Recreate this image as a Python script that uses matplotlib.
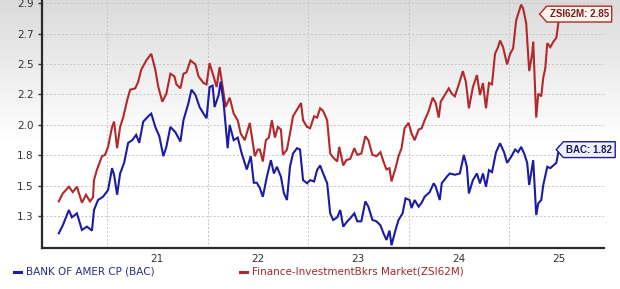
import numpy as np
import matplotlib
matplotlib.use("Agg")
import matplotlib.pyplot as plt
from matplotlib.path import Path
from matplotlib.lines import Line2D

# decimal years / values
bac_t = [2020.02, 2020.06, 2020.12, 2020.15, 2020.20, 2020.25, 2020.30, 2020.35, 2020.37, 2020.41,
         2020.46, 2020.51, 2020.55, 2020.57, 2020.60, 2020.63, 2020.67, 2020.71, 2020.75, 2020.79,
         2020.82, 2020.86, 2020.91, 2020.94, 2020.98, 2021.02, 2021.06, 2021.09, 2021.13, 2021.18,
         2021.23, 2021.26, 2021.31, 2021.34, 2021.38, 2021.42, 2021.46, 2021.49, 2021.52, 2021.55,
         2021.57, 2021.61, 2021.63, 2021.66, 2021.70, 2021.72, 2021.76, 2021.80, 2021.84, 2021.89,
         2021.93, 2021.96, 2021.99, 2022.02, 2022.05, 2022.09, 2022.13, 2022.16, 2022.19, 2022.23,
         2022.26, 2022.29, 2022.32, 2022.35, 2022.39, 2022.42, 2022.45, 2022.49, 2022.52, 2022.56,
         2022.59, 2022.62, 2022.65, 2022.69, 2022.72, 2022.75, 2022.79, 2022.82, 2022.85, 2022.89,
         2022.92, 2022.96, 2022.99, 2023.03, 2023.07, 2023.10, 2023.14, 2023.18, 2023.22, 2023.25,
         2023.28, 2023.31, 2023.33, 2023.37, 2023.40, 2023.44, 2023.47, 2023.51, 2023.53, 2023.56,
         2023.60, 2023.63, 2023.66, 2023.71, 2023.75, 2023.77, 2023.81, 2023.83, 2023.88, 2023.91,
         2023.96, 2024.01, 2024.05, 2024.08, 2024.10, 2024.14, 2024.18, 2024.21, 2024.24, 2024.27,
         2024.30, 2024.33, 2024.37, 2024.41, 2024.45, 2024.48, 2024.52, 2024.56, 2024.59, 2024.62,
         2024.65, 2024.68, 2024.70, 2024.73, 2024.74, 2024.77, 2024.79, 2024.82, 2024.84, 2024.88,
         2024.91, 2024.94, 2024.97, 2024.99, 2025.00]
bac_v = [1.17, 1.23, 1.345, 1.29, 1.32, 1.195, 1.22, 1.19, 1.345, 1.42,
         1.445, 1.495, 1.66, 1.61, 1.46, 1.62, 1.70, 1.85, 1.87, 1.91,
         1.85, 2.01, 2.05, 2.07, 1.97, 1.90, 1.75, 1.82, 1.97, 1.93,
         1.86, 2.02, 2.15, 2.25, 2.21, 2.12, 2.07, 2.035, 2.27, 2.28,
         2.12, 2.21, 2.31, 2.15, 1.81, 1.985, 1.87, 1.89, 1.77, 1.65,
         1.75, 1.55, 1.55, 1.51, 1.445, 1.595, 1.72, 1.62, 1.67, 1.595,
         1.47, 1.42, 1.67, 1.77, 1.81, 1.80, 1.57, 1.546, 1.57, 1.56,
         1.646, 1.68, 1.62, 1.546, 1.32, 1.27, 1.29, 1.345, 1.22, 1.26,
         1.283, 1.32, 1.26, 1.26, 1.41, 1.37, 1.27, 1.26, 1.23, 1.17,
         1.12, 1.19, 1.08, 1.195, 1.27, 1.32, 1.433, 1.42, 1.36, 1.42,
         1.37, 1.40, 1.445, 1.48, 1.546, 1.52, 1.42, 1.546, 1.595, 1.62,
         1.61, 1.62, 1.76, 1.67, 1.47, 1.57, 1.62, 1.545, 1.62, 1.52,
         1.645, 1.63, 1.78, 1.847, 1.78, 1.70, 1.745, 1.80, 1.78, 1.82,
         1.77, 1.70, 1.533, 1.67, 1.72, 1.307, 1.395, 1.42, 1.533, 1.67,
         1.66, 1.68, 1.70, 1.78, 1.82]

zsi_t = [2020.02, 2020.06, 2020.12, 2020.16, 2020.20, 2020.25, 2020.29, 2020.33, 2020.36, 2020.37,
         2020.40, 2020.45, 2020.48, 2020.51, 2020.55, 2020.57, 2020.60, 2020.63, 2020.66, 2020.70,
         2020.73, 2020.78, 2020.81, 2020.84, 2020.89, 2020.94, 2020.98, 2021.01, 2021.05, 2021.09,
         2021.13, 2021.17, 2021.19, 2021.23, 2021.26, 2021.29, 2021.33, 2021.38, 2021.41, 2021.46,
         2021.49, 2021.52, 2021.56, 2021.59, 2021.62, 2021.66, 2021.68, 2021.72, 2021.76, 2021.80,
         2021.83, 2021.87, 2021.92, 2021.94, 2021.97, 2022.00, 2022.02, 2022.05, 2022.08, 2022.11,
         2022.14, 2022.17, 2022.20, 2022.23, 2022.25, 2022.29, 2022.32, 2022.35, 2022.39, 2022.43,
         2022.45, 2022.49, 2022.52, 2022.56, 2022.59, 2022.62, 2022.65, 2022.69, 2022.72, 2022.75,
         2022.79, 2022.81, 2022.85, 2022.88, 2022.92, 2022.96, 2022.99, 2023.03, 2023.07, 2023.10,
         2023.14, 2023.18, 2023.22, 2023.25, 2023.28, 2023.31, 2023.33, 2023.37, 2023.40, 2023.43,
         2023.46, 2023.50, 2023.53, 2023.56, 2023.60, 2023.63, 2023.66, 2023.70, 2023.74, 2023.77,
         2023.80, 2023.82, 2023.86, 2023.90, 2023.93, 2023.96, 2024.00, 2024.04, 2024.07, 2024.10,
         2024.14, 2024.18, 2024.21, 2024.24, 2024.27, 2024.30, 2024.33, 2024.36, 2024.39, 2024.41,
         2024.44, 2024.48, 2024.51, 2024.54, 2024.57, 2024.59, 2024.62, 2024.64, 2024.67, 2024.70,
         2024.73, 2024.74, 2024.77, 2024.79, 2024.82, 2024.84, 2024.86, 2024.88, 2024.91, 2024.94,
         2024.97, 2024.99, 2025.00]
zsi_v = [1.41, 1.47, 1.52, 1.48, 1.52, 1.40, 1.46, 1.41, 1.44, 1.57,
         1.65, 1.75, 1.76, 1.82, 1.97, 2.01, 1.81, 1.97, 2.04, 2.17,
         2.25, 2.26, 2.31, 2.40, 2.47, 2.52, 2.40, 2.27, 2.16, 2.22,
         2.37, 2.35, 2.29, 2.26, 2.37, 2.38, 2.47, 2.44, 2.35, 2.30,
         2.29, 2.45, 2.35, 2.27, 2.42, 2.22, 2.12, 2.19, 2.07, 2.02,
         1.92, 1.87, 2.00, 1.90, 1.75, 1.80, 1.80, 1.71, 1.87, 1.89,
         2.02, 1.89, 1.97, 1.95, 1.76, 1.80, 1.92, 2.05, 2.10, 2.15,
         2.02, 1.97, 1.96, 2.05, 2.04, 2.11, 2.09, 2.02, 1.77, 1.74,
         1.71, 1.82, 1.68, 1.72, 1.73, 1.81, 1.76, 1.77, 1.90, 1.87,
         1.76, 1.75, 1.78, 1.71, 1.65, 1.66, 1.56, 1.66, 1.75, 1.81,
         1.96, 2.00, 1.92, 1.87, 1.95, 1.96, 2.02, 2.09, 2.19, 2.15,
         2.04, 2.16, 2.21, 2.26, 2.22, 2.20, 2.29, 2.39, 2.31, 2.11,
         2.27, 2.36, 2.21, 2.30, 2.11, 2.30, 2.29, 2.52, 2.57, 2.62,
         2.57, 2.44, 2.52, 2.56, 2.77, 2.82, 2.89, 2.86, 2.75, 2.39,
         2.52, 2.61, 2.04, 2.22, 2.20, 2.34, 2.41, 2.60, 2.57, 2.61,
         2.64, 2.75, 2.85]

year_ticks = [2021, 2022, 2023, 2024, 2025]
year_labels = ['21', '22', '23', '24', '25']
y_labels = ['1.3', '1.5', '1.8', '2.0', '2.2', '2.5', '2.7', '2.9']

bac_name = 'BANK OF AMER CP (BAC)'
zsi_name = 'Finance-InvestmentBkrs Market(ZSI62M)'

blue = '#1b1ba3'
red = '#b3282a'

fig = plt.figure(figsize=(6.2, 2.89), dpi=100)

# grey-to-white gradient behind everything
bg = fig.add_axes([0, 0, 1, 1], zorder=-1)
rows = np.linspace(0, 1, 289)
shade = np.clip(0.855 + rows / 0.5 * 0.145, 0, 1)
grad = np.repeat(shade[:, None], 2, axis=1)
bg.imshow(grad, cmap='gray', vmin=0, vmax=1, aspect='auto', extent=[0, 1, 0, 1], origin='upper')
bg.axis('off')

ax = fig.add_axes([0.0673, 0.1408, 0.9062, 0.8557])
ax.set_facecolor('none')

ax.plot(zsi_t, zsi_v, color=red, lw=1.5, solid_joinstyle='miter', zorder=3)
ax.plot(bac_t, bac_v, color=blue, lw=1.5, solid_joinstyle='miter', zorder=3)

ax.set_xlim(2019.85, 2025.44)
ax.set_ylim(1.057, 2.917)

ax.set_yticks(np.linspace(1.3, 2.9, len(y_labels)))
ax.set_yticklabels(y_labels)
ax.set_xticks(year_ticks)
ax.set_xticklabels(year_labels)
ax.set_xticks([y - 0.5 for y in year_ticks], minor=True)

ax.tick_params(axis='y', length=3, width=1, colors='#333333', labelsize=7.5, pad=3)
ax.tick_params(axis='x', which='both', length=0, labelsize=7.5, labelcolor='#333333', pad=4)
ax.grid(axis='y', which='major', color='#c4c4c4', ls=(0, (2, 2)), lw=0.7)
ax.grid(axis='x', which='minor', color='#c4c4c4', ls=(0, (2, 2)), lw=0.7)

for s in ['top', 'right']:
    ax.spines[s].set_visible(False)
for s in ['left', 'bottom']:
    ax.spines[s].set_color('#2a2a2a')
    ax.spines[s].set_linewidth(1.6)


def tag(x0, y0, width, height, mutation_size):
    pad = 0.3 * mutation_size
    x0 -= pad
    y0 -= pad
    width += 2 * pad
    height += 2 * pad
    tip = height * 0.45
    verts = [(x0, y0), (x0 + width, y0), (x0 + width, y0 + height),
             (x0, y0 + height), (x0 - tip, y0 + height / 2), (x0, y0)]
    return Path(verts, closed=True)


ax.annotate(f'ZSI62M: {zsi_v[-1]:.2f}', xy=(zsi_t[-1], zsi_v[-1]), xytext=(-7, -3),
            textcoords='offset points', ha='left', va='center', fontsize=7,
            fontweight='bold', family='Liberation Sans', color='#7a1c1c',
            annotation_clip=False, zorder=5,
            bbox=dict(boxstyle=tag, fc='#fdf6ef', ec=red, lw=1))
ax.annotate(f'BAC: {bac_v[-1]:.2f}', xy=(bac_t[-1], bac_v[-1]), xytext=(5, -2),
            textcoords='offset points', ha='left', va='center', fontsize=7,
            fontweight='bold', family='Liberation Sans', color='#1c1c5a',
            annotation_clip=False, zorder=5,
            bbox=dict(boxstyle=tag, fc='#eef0fb', ec=blue, lw=1))

# legend row at the bottom
ly = 1 - 272 / 289
fig.add_artist(Line2D([14 / 620, 21 / 620], [ly, ly], color=blue, lw=2.2))
fig.text(26 / 620, ly, bac_name, color='#2c2c8a', fontsize=7.5, va='center', ha='left')
fig.add_artist(Line2D([240 / 620, 247 / 620], [ly, ly], color=red, lw=2.2))
fig.text(252 / 620, ly, zsi_name, color='#a12a2a', fontsize=7.5, va='center', ha='left')

fig.savefig('out.png', dpi=100)
